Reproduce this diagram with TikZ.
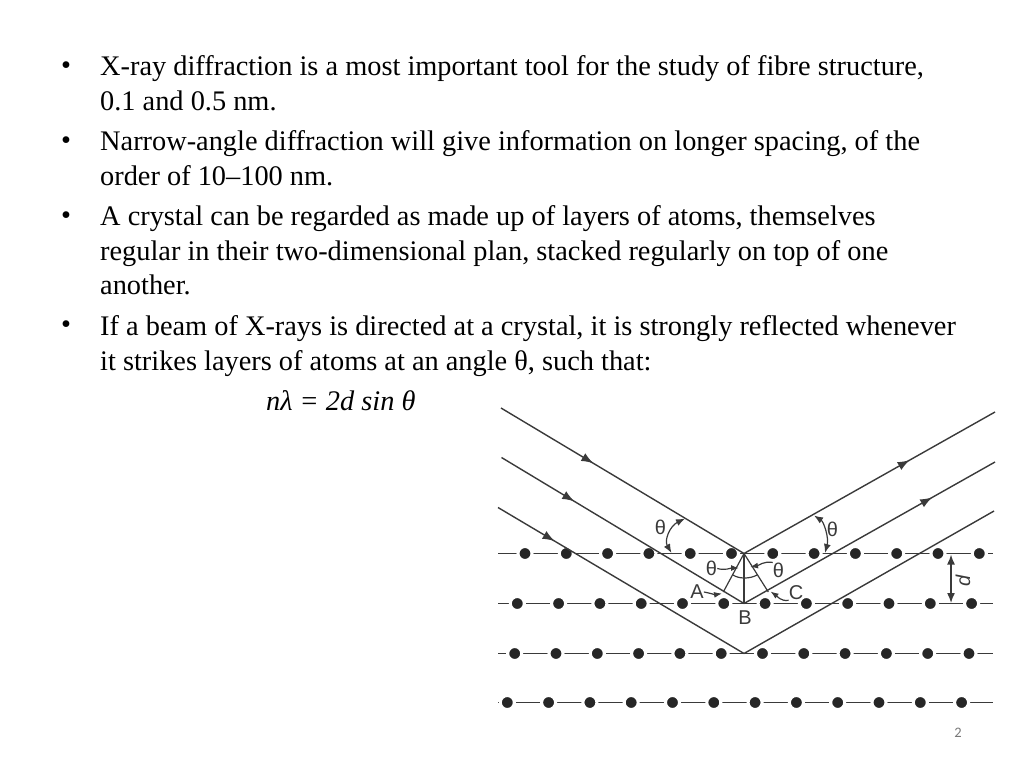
\documentclass[tikz,border=0pt]{standalone}
\usepackage{fontspec}
\usepackage{xcolor}
\usepackage{tikz}
\usetikzlibrary{arrows.meta,decorations.markings}
\setmainfont{Liberation Serif}
\newfontfamily\labelfont{Liberation Sans}
\newfontfamily\numfont{Carlito}
\definecolor{inkgray}{RGB}{58, 58, 58}
\definecolor{pagegray}{RGB}{120, 120, 120}
\tikzset{
  bodytext/.style={anchor=north west, inner sep=0pt, align=left, font=\fontsize{28.35}{34.4}\selectfont},
  bulletmark/.style={inner sep=0pt, font=\fontsize{28.35}{34.4}\selectfont},
  plane/.style={line width=1.5pt, inkgray},
  beam/.style={line width=1.4pt, inkgray},
  atom/.style={circle, fill=black!85, draw=white, line width=3pt, minimum size=14pt, inner sep=0pt},
  sketchlabel/.style={inner sep=0pt, inkgray, font=\labelfont\fontsize{20}{20}\selectfont},
  thin arc/.style={line width=1.2pt, inkgray},
  tipped/.style={-{Latex[length=8pt,width=6pt]}},
  flow at/.style={postaction={decorate}, decoration={markings, mark=at position #1 with {\arrow{Latex[length=12pt,width=9pt]}}}}
}
\begin{document}
\begin{tikzpicture}[x=1pt, y=-1pt]
\useasboundingbox (0,0) rectangle (1024,768);

% Text
\node[bulletmark] (b1) at (66,68) {•};
\node[bulletmark] (b2) at (66,143) {•};
\node[bulletmark] (b3) at (66,218) {•};
\node[bulletmark] (b4) at (66,327) {•};
\node[bodytext] (t1) at (100,55.5) {X-ray diffraction is a most important tool for the study of fibre structure,\\0.1 and 0.5 nm.};
\node[bodytext] (t2) at (100,130.5) {Narrow-angle diffraction will give information on longer spacing, of the\\order of 10–100 nm.};
\node[bodytext] (t3) at (100,205.5) {A crystal can be regarded as made up of layers of atoms, themselves\\regular in their two-dimensional plan, stacked regularly on top of one\\another.};
\node[bodytext] (t4) at (100,315.5) {If a beam of X-rays is directed at a crystal, it is strongly reflected whenever\\it strikes layers of atoms at an angle θ, such that:};
\node[bodytext] (bragg) at (266,390.5) {\itshape nλ = 2d sin θ};
\node[inner sep=0pt, pagegray, font=\numfont\fontsize{14.5}{14.5}\selectfont] (page) at (958,733) {2};

% Planes
\foreach \name/\y in {p1/553.5, p2/603.5, p3/653.5, p4/702.5} {
  \coordinate (\name l) at (498,\y);
  \coordinate (\name r) at (993,\y);
  \draw[plane] (\name l) -- (\name r);
}

% Beams
\coordinate (V1) at (744,553.5);
\coordinate (V2) at (744,603.5);
\coordinate (V3) at (744,653.5);
\coordinate (in1) at (501,408);
\coordinate (in2) at (501.5,457.5);
\coordinate (in3) at (498,507.5);
\coordinate (out1) at (995,412);
\coordinate (out2) at (995,462);
\coordinate (out3) at (994,511);

% Atoms
\foreach \i in {0,...,11} {
  \node[atom] (a\i) at (525+41.3*\i,553.5) {};
  \node[atom] (b\i) at (517.3+41.3*\i,603.5) {};
  \node[atom] (c\i) at (514.7+41.3*\i,653.5) {};
  \node[atom] (e\i) at (507.3+41.3*\i,702.5) {};
}

\draw[beam, flow at=0.38] (in1) -- (V1);
\draw[beam, flow at=0.30] (in2) -- (V2);
\draw[beam, flow at=0.23] (in3) -- (V3);
\draw[beam, flow at=0.66] (V1) -- (out1);
\draw[beam, flow at=0.75] (V2) -- (out2);
\draw[beam] (V3) -- (out3);

% Angles above the planes
\coordinate (th1a) at (685,518.5);
\coordinate (th1b) at (671.5,553);
\coordinate (th2a) at (814,515.5);
\coordinate (th2b) at (825,553);
\draw[thin arc, {Latex[length=9pt,width=7pt]}-{Latex[length=9pt,width=7pt]}] (th1a) .. controls (670,526) and (664,540) .. (th1b);
\draw[thin arc, {Latex[length=9pt,width=7pt]}-{Latex[length=9pt,width=7pt]}] (th2a) .. controls (824,522) and (829,538) .. (th2b);
\node[sketchlabel] (th1) at (660.5,527.5) {θ};
\node[sketchlabel] (th2) at (832.5,529.5) {θ};

% Path difference
\coordinate (A) at (723.3,592);
\coordinate (C) at (768.3,592);
\draw[thin arc] (V1) -- (A);
\draw[thin arc] (V1) -- (C);
\draw[thin arc] (V1) -- (V2);
\coordinate (arcl) at (733,575);
\coordinate (arcr) at (757,575);
\draw[thin arc] (arcl) .. controls (739,579) and (750,579) .. (arcr);

% Labels
\node[sketchlabel] (th3) at (711.5,568.5) {θ};
\node[sketchlabel] (th4) at (778.5,570) {θ};
\node[sketchlabel] (labA) at (697,592) {A};
\node[sketchlabel] (labB) at (745,617.5) {B};
\node[sketchlabel] (labC) at (796,593) {C};
\coordinate (th3t) at (739,568);
\coordinate (th4t) at (750,567);
\coordinate (At) at (722,593.5);
\coordinate (Ct) at (770.5,591.5);
\draw[thin arc, tipped] (th3.east) to[out=-15, in=180] (th3t);
\draw[thin arc, tipped] (th4.north west) to[out=170, in=10] (th4t);
\draw[thin arc, tipped] (labA.east) to[out=-10, in=190] (At);
\draw[thin arc, tipped] (labC.south west) to[out=190, in=-35] (Ct);

% Spacing
\coordinate (d1) at (951,554.5);
\coordinate (d2) at (951,603);
\draw[line width=1.5pt, inkgray, {Latex[length=10pt,width=8pt]}-{Latex[length=10pt,width=8pt]}] (d1) -- (d2);
\node[sketchlabel, rotate=90, font=\labelfont\itshape\fontsize{20}{20}\selectfont] (dlab) at (963,581) {d};
\end{tikzpicture}
\end{document}
